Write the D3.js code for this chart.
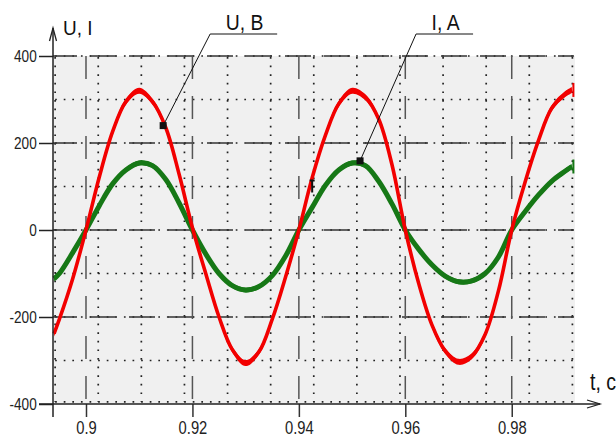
<!DOCTYPE html>
<html>
<head>
<meta charset="utf-8">
<script src="https://cdn.jsdelivr.net/npm/d3@7"></script>
<style>
  body { margin: 0; background: #fff; }
  svg { display: block; font-family: "Liberation Sans", Arial, sans-serif; }
</style>
</head>
<body>
<div id="chart"></div>
<script>
// sample times, s
var times = [0.894, 0.895, 0.8975, 0.9, 0.9025, 0.905, 0.9075, 0.91, 0.9125, 0.915, 0.9175,
  0.92, 0.9225, 0.925, 0.9275, 0.93, 0.9325, 0.935, 0.9375, 0.94, 0.9425, 0.945, 0.9475,
  0.95, 0.9525, 0.955, 0.9575, 0.96, 0.9625, 0.965, 0.9675, 0.97, 0.9725, 0.975, 0.9775,
  0.98, 0.9825, 0.985, 0.9875, 0.99, 0.9913];
// voltage U, B (red)
var voltage = [-238, -205, -112, 0, 122, 226, 295, 320, 295, 235, 128,
  5, -100, -200, -275, -306, -280, -205, -108, 0, 120, 218, 290,
  320, 305, 255, 150, 0, -122, -218, -278, -303, -290, -240, -140,
  0, 110, 205, 280, 312, 322];
// current I, A (green)
var current = [-112, -100, -52, 0, 56, 106, 138, 154, 148, 116, 62,
  0, -55, -100, -128, -138, -130, -105, -60, 0, 52, 103, 138,
  154, 148, 112, 60, 0, -44, -80, -106, -119, -117, -100, -62,
  0, 42, 80, 112, 135, 146];

var xTicks = [0.9, 0.92, 0.94, 0.96, 0.98];
var xTickLabels = ["0.9", "0.92", "0.94", "0.96", "0.98"];
var yTicks = [400, 200, 0, -200, -400];
var yTickLabels = ["400", "200", "0", "-200", "-400"];
var yMajorGrid = [400, 200, 0, -200];
var yMinorGrid = [400, 300, 200, 100, 0, -100, -200, -300, -395];
var xMinorGrid = [0.8942, 0.9023, 0.9104, 0.9185, 0.9266, 0.9347, 0.9428, 0.9509,
  0.959, 0.9671, 0.9752, 0.9833, 0.9914];

// leader-line callouts
var noteLabels = ["U, B", "I, A"];
var noteTimes = [0.9145, 0.9515];
var noteValues = [240, 159];

var width = 616, height = 439;

var x = d3.scaleLinear().domain([0.8938, 0.9917]).range([53, 574]);
var y = d3.scaleLinear().domain([-400, 400]).range([404, 56]);

var svg = d3.select("#chart").append("svg")
    .attr("width", width)
    .attr("height", height);

//plot background
svg.append("rect")
    .attr("x", x(0.8938)).attr("y", y(400))
    .attr("width", x(0.9917) - x(0.8938) + 1)
    .attr("height", y(-400) - y(400))
    .attr("fill", "#f0f0f0");

//dotted grid
var grid = svg.append("g");
grid.selectAll(".hdot")
    .data(yMinorGrid)
  .enter().append("line")
    .attr("x1", x(0.8942)).attr("x2", x(0.9917))
    .attr("y1", function(d) { return y(d); })
    .attr("y2", function(d) { return y(d); })
    .attr("stroke", "#222").attr("stroke-width", 1.7)
    .attr("stroke-dasharray", "1.7,6.9");

grid.selectAll(".vdot")
    .data(xMinorGrid)
  .enter().append("line")
    .attr("x1", function(d) { return x(d); })
    .attr("x2", function(d) { return x(d); })
    .attr("y1", y(400) + 1).attr("y2", y(-395))
    .attr("stroke", "#222").attr("stroke-width", 1.7)
    .attr("stroke-dasharray", "1.7,6.9");

//dashed major grid
grid.selectAll(".hdash")
    .data(yMajorGrid)
  .enter().append("line")
    .attr("x1", x(0.8938)).attr("x2", x(0.9917))
    .attr("y1", function(d) { return y(d); })
    .attr("y2", function(d) { return y(d); })
    .attr("stroke", "#333").attr("stroke-width", 1.3)
    .attr("stroke-dasharray", "26,13")
    .attr("stroke-dashoffset", 2);

grid.selectAll(".vdash")
    .data(xTicks)
  .enter().append("line")
    .attr("x1", function(d) { return x(d); })
    .attr("x2", function(d) { return x(d); })
    .attr("y1", y(400)).attr("y2", y(-400))
    .attr("stroke", "#555").attr("stroke-width", 1.5)
    .attr("stroke-dasharray", "23,17");

//signal bands
function drawSignal(values, color, halfBand, lineWidth) {
  var pts = times.map(function(t, i) { return [t, values[i]]; });
  var band = d3.area()
      .curve(d3.curveCatmullRom)
      .x(function(d) { return x(d[0]); })
      .y0(function(d) { return y(d[1]) - halfBand; })
      .y1(function(d) { return y(d[1]) + halfBand; });
  var line = d3.line()
      .curve(d3.curveCatmullRom)
      .x(function(d) { return x(d[0]); })
      .y(function(d) { return y(d[1]); });
  var g = svg.append("g");
  g.append("path").attr("d", band(pts)).attr("fill", color);
  g.append("path").attr("d", line(pts))
      .attr("fill", "none").attr("stroke", color)
      .attr("stroke-width", lineWidth).attr("stroke-linejoin", "round");
  //end marker at right border
  var last = pts[pts.length - 1];
  g.append("rect")
      .attr("x", x(last[0]) + 0.5).attr("y", y(last[1]) - 7)
      .attr("width", 2).attr("height", 14)
      .attr("fill", color);
}

drawSignal(current, "#167816", 2.4, 5);
drawSignal(voltage, "#f20000", 3, 3.6);

//axes
var yAxis = svg.append("g")
    .attr("transform", "translate(53,0)")
    .call(d3.axisLeft(y).tickValues(yTicks).tickSize(14).tickSizeOuter(0)
      .tickFormat(function(d, i) { return yTickLabels[i]; }));
yAxis.select(".domain").remove();
yAxis.selectAll(".tick line").attr("stroke", "#222").attr("stroke-width", 1.5);
yAxis.selectAll(".tick text")
    .attr("x", 0).attr("dy", "0.36em")
    .attr("transform", "translate(-16.3,0) scale(0.85,1)")
    .attr("font-size", 16)
    .attr("font-family", "Liberation Sans, Arial, sans-serif")
    .attr("fill", "#222");

var xAxis = svg.append("g")
    .attr("transform", "translate(0,404)")
    .call(d3.axisBottom(x).tickValues(xTicks)
      .tickFormat(function(d, i) { return xTickLabels[i]; })
      .tickSize(13).tickSizeOuter(0));
xAxis.select(".domain").remove();
xAxis.selectAll(".tick line").attr("stroke", "#333").attr("stroke-width", 1.5);
xAxis.selectAll(".tick text")
    .attr("y", 0).attr("dy", 0)
    .attr("transform", "translate(0,29.5) scale(0.82,1)")
    .attr("font-size", 18)
    .attr("font-family", "Liberation Sans, Arial, sans-serif")
    .attr("fill", "#222");

var axisColor = "#222";
//vertical axis with arrow
svg.append("line")
    .attr("x1", 53).attr("x2", 53).attr("y1", 417).attr("y2", 28)
    .attr("stroke", axisColor).attr("stroke-width", 1.5);
svg.append("path")
    .attr("d", "M49.5,41 L53,28 L56.5,41")
    .attr("fill", "none").attr("stroke", axisColor).attr("stroke-width", 1.3);
//horizontal axis with arrow
svg.append("line")
    .attr("x1", 39).attr("x2", 600).attr("y1", 404).attr("y2", 404)
    .attr("stroke", axisColor).attr("stroke-width", 1.5);
svg.append("path")
    .attr("d", "M587,400 L600,404 L587,408")
    .attr("fill", "none").attr("stroke", axisColor).attr("stroke-width", 1.3);

function label(txt, px, py, size, sx) {
  svg.append("text")
      .attr("transform", "translate(" + px + "," + py + ") scale(" + sx + ",1)")
      .attr("font-size", size)
      .attr("fill", "#111")
      .text(txt);
}
label("U, I", 63, 35, 20, 0.95);
label("t, c", 590, 390, 23, 0.85);

//callouts: marker, diagonal leader, shelf, label
var elbowDx = [47, 56];
var shelf = [67, 57];
noteLabels.forEach(function(txt, i) {
  var mx = x(noteTimes[i]), my = y(noteValues[i]);
  var ex = mx + elbowDx[i], ey = 34;
  svg.append("path")
      .attr("d", "M" + mx + "," + my + " L" + ex + "," + ey + " L" + (ex + shelf[i]) + "," + ey)
      .attr("fill", "none").attr("stroke", "#111").attr("stroke-width", 1);
  svg.append("rect")
      .attr("x", mx - 3.5).attr("y", my - 3.5)
      .attr("width", 7).attr("height", 7)
      .attr("fill", "#111");
  svg.append("text")
      .attr("transform", "translate(" + (ex + shelf[i] / 2 + 1) + ",29.5) scale(0.88,1)")
      .attr("text-anchor", "middle")
      .attr("font-size", 22)
      .attr("fill", "#111")
      .text(txt);
});

//small cursor mark on the rising edge
var cx = x(0.9425), cy = y(100);
svg.append("path")
    .attr("d", "M" + (cx - 2.5) + "," + (cy - 6) + " L" + (cx + 2.5) + "," + (cy - 6) +
      " M" + cx + "," + (cy - 6) + " L" + cx + "," + (cy + 6))
    .attr("fill", "none").attr("stroke", "#111").attr("stroke-width", 2);
</script>
</body>
</html>
